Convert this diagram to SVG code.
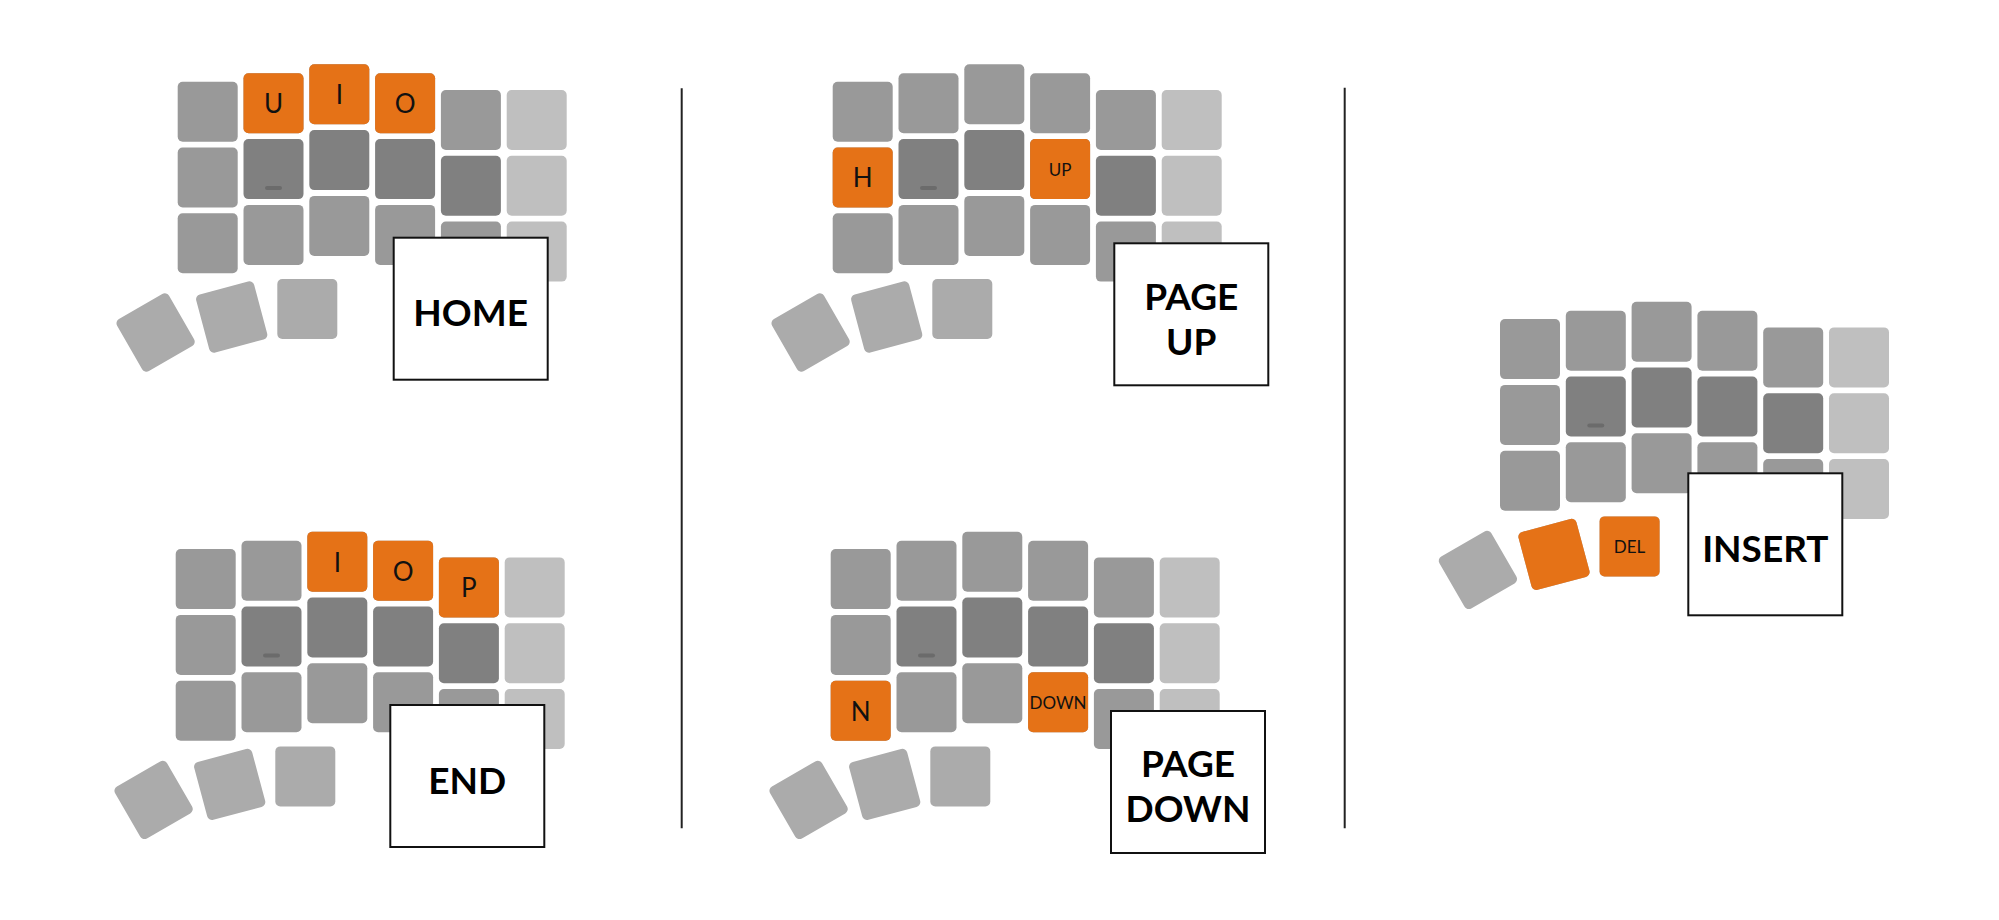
<svg xmlns="http://www.w3.org/2000/svg" xmlns:xlink="http://www.w3.org/1999/xlink" width="1999" height="920" viewBox="0 0 1999 920">
  <style>
    .k { fill: #999999; }
    .kd { fill: #808080; }
    .kl { fill: #bfbfbf; }
    .kt { fill: #ababab; }
    .ko { fill: #e57217; }
    .bar { fill: #6b6b6b; }
    .lab { font-family: Lato, "Liberation Sans", sans-serif; font-size: 26px; font-weight: 400; fill: #111; text-anchor: middle; }
    .lab-s { font-family: Lato, "Liberation Sans", sans-serif; font-size: 17px; font-weight: 400; fill: #111; text-anchor: middle; }
    .box { fill: #ffffff; stroke: #111111; stroke-width: 2; }
    .title { font-family: Lato, "Liberation Sans", sans-serif; font-size: 37px; font-weight: 700; fill: #000; text-anchor: middle; }
    .div { stroke: #222222; stroke-width: 2; }
  </style>
  <defs>
    <g id="kb">
      <!-- col 0 -->
      <rect class="k" x="0" y="17.4" width="60" height="60" rx="5"/>
      <rect class="k" x="0" y="83.2" width="60" height="60" rx="5"/>
      <rect class="k" x="0" y="149" width="60" height="60" rx="5"/>
      <!-- col 1 -->
      <rect class="k" x="65.8" y="9" width="60" height="60" rx="5"/>
      <rect class="kd" x="65.8" y="74.8" width="60" height="60" rx="5"/>
      <rect class="k" x="65.8" y="140.6" width="60" height="60" rx="5"/>
      <!-- col 2 -->
      <rect class="k" x="131.6" y="0" width="60" height="60" rx="5"/>
      <rect class="kd" x="131.6" y="65.8" width="60" height="60" rx="5"/>
      <rect class="k" x="131.6" y="131.6" width="60" height="60" rx="5"/>
      <!-- col 3 -->
      <rect class="k" x="197.4" y="9" width="60" height="60" rx="5"/>
      <rect class="kd" x="197.4" y="74.8" width="60" height="60" rx="5"/>
      <rect class="k" x="197.4" y="140.6" width="60" height="60" rx="5"/>
      <!-- col 4 -->
      <rect class="k" x="263.2" y="25.7" width="60" height="60" rx="5"/>
      <rect class="kd" x="263.2" y="91.5" width="60" height="60" rx="5"/>
      <rect class="k" x="263.2" y="157.3" width="60" height="60" rx="5"/>
      <!-- col 5 -->
      <rect class="kl" x="329" y="25.7" width="60" height="60" rx="5"/>
      <rect class="kl" x="329" y="91.5" width="60" height="60" rx="5"/>
      <rect class="kl" x="329" y="157.3" width="60" height="60" rx="5"/>
      <!-- home bump -->
      <rect class="bar" x="87.3" y="121.7" width="17" height="4" rx="2"/>
      <!-- thumbs -->
      <rect class="kt" x="-30" y="-30" width="60" height="60" rx="5" transform="translate(-22.1 268.2) rotate(-30)"/>
      <rect class="kt" x="-30" y="-30" width="60" height="60" rx="5" transform="translate(54 252.7) rotate(-15)"/>
      <rect class="kt" x="99.6" y="214.7" width="60" height="60" rx="5"/>
    </g>
  </defs>

  <g id="dividers">
    <line class="div" x1="681.7" y1="88.3" x2="681.7" y2="828.3"/>
    <line class="div" x1="1344.7" y1="87.7" x2="1344.7" y2="828.3"/>
  </g>

  <g id="home">
    <g transform="translate(177.7 64.3)">
      <use xlink:href="#kb" href="#kb"/>
      <rect class="ko" x="65.8" y="9" width="60" height="60" rx="5"/>
      <rect class="ko" x="131.6" y="0" width="60" height="60" rx="5"/>
      <rect class="ko" x="197.4" y="9" width="60" height="60" rx="5"/>
      <text class="lab" x="95.8" y="49">U</text>
      <text class="lab" x="161.6" y="40">I</text>
      <text class="lab" x="227.4" y="49">O</text>
    </g>
    <rect class="box" x="393.7" y="237.7" width="154" height="142"/>
    <text class="title" x="470.7" y="326">HOME</text>
  </g>

  <g id="end">
    <g transform="translate(175.7 531.7)">
      <use xlink:href="#kb" href="#kb"/>
      <rect class="ko" x="131.6" y="0" width="60" height="60" rx="5"/>
      <rect class="ko" x="197.4" y="9" width="60" height="60" rx="5"/>
      <rect class="ko" x="263.2" y="25.7" width="60" height="60" rx="5"/>
      <text class="lab" x="161.6" y="40">I</text>
      <text class="lab" x="227.4" y="49">O</text>
      <text class="lab" x="293.2" y="65.7">P</text>
    </g>
    <rect class="box" x="390.3" y="705" width="154" height="142"/>
    <text class="title" x="467.3" y="794">END</text>
  </g>

  <g id="page-up">
    <g transform="translate(832.7 64.3)">
      <use xlink:href="#kb" href="#kb"/>
      <rect class="ko" x="0" y="83.2" width="60" height="60" rx="5"/>
      <rect class="ko" x="197.4" y="74.8" width="60" height="60" rx="5"/>
      <text class="lab" x="30" y="123.2">H</text>
      <text class="lab-s" x="227.4" y="111.5">UP</text>
    </g>
    <rect class="box" x="1114.3" y="243.3" width="154" height="142"/>
    <text class="title" x="1191.3" y="310">PAGE</text>
    <text class="title" x="1191.3" y="355">UP</text>
  </g>

  <g id="page-down">
    <g transform="translate(830.7 531.7)">
      <use xlink:href="#kb" href="#kb"/>
      <rect class="ko" x="0" y="149" width="60" height="60" rx="5"/>
      <rect class="ko" x="197.4" y="140.6" width="60" height="60" rx="5"/>
      <text class="lab" x="30" y="189">N</text>
      <text class="lab-s" x="227.4" y="177.3">DOWN</text>
    </g>
    <rect class="box" x="1111" y="711" width="154" height="142"/>
    <text class="title" x="1188" y="776.7">PAGE</text>
    <text class="title" x="1188" y="822">DOWN</text>
  </g>

  <g id="insert">
    <g transform="translate(1500 301.7)">
      <use xlink:href="#kb" href="#kb"/>
      <rect class="ko" x="-30" y="-30" width="60" height="60" rx="5" transform="translate(54 252.7) rotate(-15)"/>
      <rect class="ko" x="99.6" y="214.7" width="60" height="60" rx="5"/>
      <text class="lab-s" x="129.6" y="251">DEL</text>
    </g>
    <rect class="box" x="1688.3" y="473.3" width="154" height="142"/>
    <text class="title" x="1765.3" y="561.7">INSERT</text>
  </g>
</svg>
